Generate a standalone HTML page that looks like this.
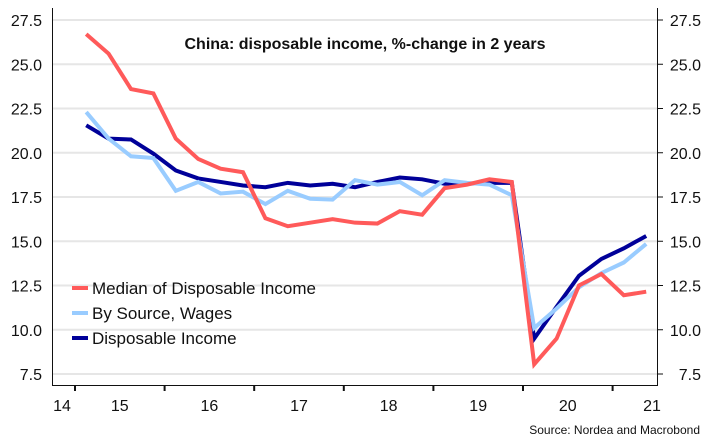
<!DOCTYPE html>
<html><head><meta charset="utf-8"><style>
body{margin:0;background:#fff;}
svg{display:block;font-family:"Liberation Sans",sans-serif;}
</style></head><body>
<svg id="chart" width="710" height="448">
<g id="grid"></g><g id="axes"></g><g id="series"></g>
<text x="365" y="49" text-anchor="middle" font-size="16" font-weight="bold" fill="#111">China: disposable income, %-change in 2 years</text>
<g font-size="17" fill="#111">
<g><line x1="72" x2="88" y1="288" y2="288" stroke="#ff5a5a" stroke-width="4"/><text x="92" y="294">Median of Disposable Income</text></g>
<g><line x1="72" x2="88" y1="313" y2="313" stroke="#99ccff" stroke-width="4"/><text x="92" y="319">By Source, Wages</text></g>
<g><line x1="72" x2="88" y1="338" y2="338" stroke="#000099" stroke-width="4"/><text x="92" y="344">Disposable Income</text></g>
</g>
<text x="700" y="434" text-anchor="end" font-size="12" fill="#111">Source: Nordea and Macrobond</text>
</svg>
<script>
const yTicks=[7.5,10,12.5,15,17.5,20,22.5,25,27.5];
const yearLabels=["14","15","16","17","18","19","20","21"];
const median=[26.7,25.6,23.6,23.35,20.8,19.65,19.1,18.9,16.3,15.85,16.05,16.25,16.05,16.0,16.7,16.5,18.0,18.2,18.5,18.35,8.05,9.5,12.5,13.15,11.95,12.15];
const wages=[22.3,20.8,19.8,19.7,17.85,18.35,17.7,17.8,17.1,17.85,17.4,17.35,18.45,18.2,18.35,17.6,18.45,18.3,18.2,17.6,10.1,11.2,12.4,13.2,13.8,14.85];
const disposable=[21.55,20.8,20.75,19.95,19.0,18.55,18.35,18.15,18.05,18.3,18.15,18.25,18.05,18.35,18.6,18.5,18.25,18.25,18.3,18.3,9.5,11.3,13.05,14.0,14.6,15.3];
const NS="http://www.w3.org/2000/svg";
const Y=v=>20+(27.5-v)*17.7;
const X=i=>75+22.4*(i+0.5); // i = quarter index from 2015Q1
const yearX=k=>75+89.6*(k-1); // start of year label index k
function mk(t,a,p){const e=document.createElementNS(NS,t);for(const k in a)e.setAttribute(k,a[k]);p.appendChild(e);return e;}
const grid=document.getElementById('grid'),axes=document.getElementById('axes'),ser=document.getElementById('series');
yTicks.forEach(v=>{
 const g=mk('line',{x1:52,x2:657,y1:Y(v),y2:Y(v),stroke:'#e6e6e6','stroke-width':2},grid);
 
 
 const l=mk('text',{x:42,y:Y(v)+6,'text-anchor':'end','font-size':16,fill:'#111'},axes);l.textContent=v.toFixed(1);
 
 
 const r=mk('text',{x:701,y:Y(v)+6,'text-anchor':'end','font-size':16,fill:'#111'},axes);r.textContent=v.toFixed(1);
 
 
 mk('line',{x1:657,x2:663,y1:Y(v),y2:Y(v),stroke:'#111','stroke-width':1},axes);
});
const la=mk('line',{x1:52.5,x2:52.5,y1:8,y2:386,stroke:'#111','stroke-width':1},axes);

const ra=mk('line',{x1:657.5,x2:657.5,y1:8,y2:386,stroke:'#111','stroke-width':1},axes);

const xa=mk('line',{x1:52,x2:658,y1:385.5,y2:385.5,stroke:'#111','stroke-width':1},axes);

yearLabels.forEach((s,k)=>{
 if(k>0&&k<yearLabels.length){mk('line',{x1:yearX(k),x2:yearX(k),y1:385,y2:391,stroke:'#111','stroke-width':2},axes);}
 const cx=k===0?62:(k===yearLabels.length-1?652:yearX(k)+44.8);
 const t=mk('text',{x:cx,y:411,'text-anchor':'middle','font-size':16,fill:'#111'},axes);t.textContent=s;
 
 
});
function line(d,c,n){const p=mk('polyline',{points:d.map((v,i)=>X(i)+','+Y(v)).join(' '),fill:'none',stroke:c,'stroke-width':4,'stroke-linejoin':'miter'},ser);
 
 }
line(disposable,'#000099','series-disposable-income');
line(wages,'#99ccff','series-wages');
line(median,'#ff5a5a','series-median');
</script>
</body></html>
